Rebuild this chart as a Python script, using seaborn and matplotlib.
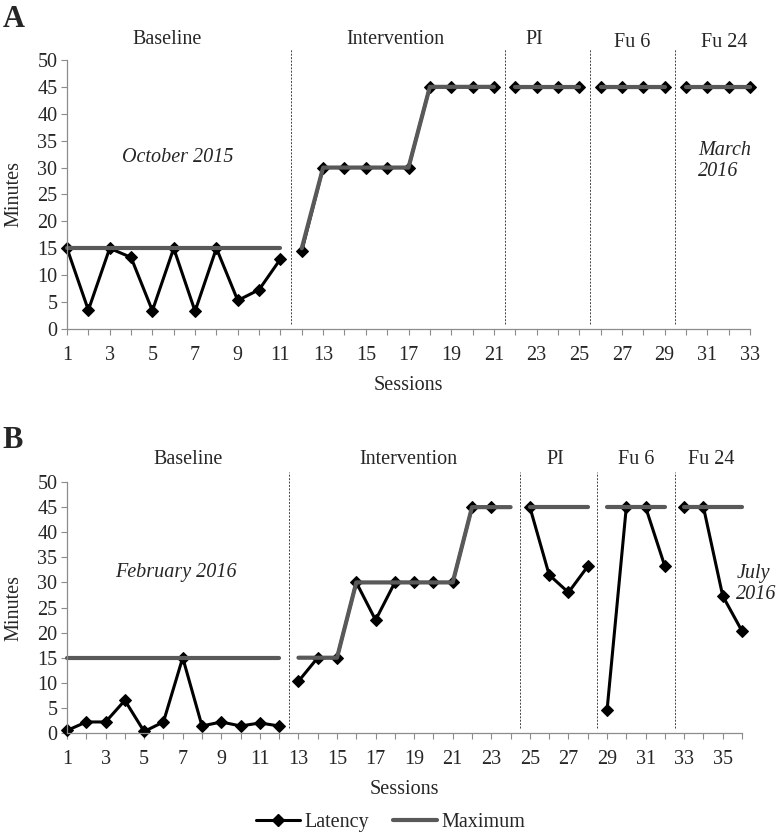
import matplotlib
matplotlib.use('Agg')
import matplotlib.pyplot as plt
import numpy as np
import pandas as pd
import seaborn as sns
from matplotlib.lines import Line2D

sns.set_style('white')
plt.rcParams['font.family'] = ['Liberation Serif', 'DejaVu Serif']

# ---- data, panel A ----
a_sessions = list(range(1, 34))
a_phase = ['Baseline'] * 11 + ['Intervention'] * 10 + ['PI'] * 4 + ['Fu 6'] * 4 + ['Fu 24'] * 4
a_latency = [15, 3.5, 15, 13.3, 3.4, 15, 3.3, 15, 5.3, 7.3, 13,
             14.5, 30, 30, 30, 30, 30, 45, 45, 45, 45,
             45, 45, 45, 45,
             45, 45, 45, 45,
             45, 45, 45, 45]
a_maximum = [15] * 11 + [15, 30, 30, 30, 30, 30, 45, 45, 45, 45] + [45] * 12
a_phase_lines = [11.5, 21.5, 25.5, 29.5]
a_labels = ['Baseline', 'Intervention', 'PI', 'Fu 6', 'Fu 24']

# ---- data, panel B ----
b_sessions = list(range(1, 37))
b_phase = ['Baseline'] * 12 + ['Intervention'] * 12 + ['PI'] * 4 + ['Fu 6'] * 4 + ['Fu 24'] * 4
b_latency = [0.5, 2.2, 2.2, 6.5, 0.3, 2.2, 15, 1.4, 2.2, 1.4, 2.0, 1.4,
             10.3, 15, 15, 30, 22.5, 30, 30, 30, 30, 45, 45, np.nan,
             45, 31.5, 28, 33.2,
             4.5, 45, 45, 33.2,
             45, 45, 27.3, 20.3]
b_maximum = [15] * 12 + [15, 15, 15, 30, 30, 30, 30, 30, 30, 45, 45, 45] + [45] * 12
b_phase_lines = [12.5, 24.5, 28.5, 32.5]
b_labels = ['Baseline', 'Intervention', 'PI', 'Fu 6', 'Fu 24']

LAT_COL = 'black'
MAX_COL = '#595959'
AX_COL = '#8c8c8c'
FS = 14.5

fig = plt.figure(figsize=(7.81, 8.36), dpi=100)
axA = fig.add_axes([0.0858, 0.6065, 0.8745, 0.3218])
axB = fig.add_axes([0.0858, 0.1232, 0.8643, 0.3002])


def panel(ax, sessions, phase, latency, maximum, plines, labels, lab_x, lab_y, xmax):
    df = pd.DataFrame({'session': sessions, 'phase': phase,
                       'latency': latency, 'maximum': maximum})
    sns.lineplot(data=df, x='session', y='latency', units='phase', estimator=None,
                 color=LAT_COL, lw=2.2, marker='D', markersize=6.5,
                 markeredgecolor=LAT_COL, ax=ax, sort=True)
    sns.lineplot(data=df, x='session', y='maximum', units='phase', estimator=None,
                 color=MAX_COL, lw=3.0, ax=ax, sort=True)
    for ln in ax.lines:
        ln.set_clip_on(False)
    ax.vlines(plines, 1, 52, colors='#444444', linestyles=(0, (2, 1.5)), lw=0.7,
              clip_on=False)
    for lx, ly, t in zip(lab_x, lab_y, labels):
        ax.text(lx, ly, t, ha='center', va='center', fontsize=FS)
    ax.set_xlim(1, xmax)
    ax.set_ylim(0, 50)
    ax.set_yticks(range(0, 51, 5))
    ax.set_xticks(range(1, xmax + 1))
    ax.set_xticklabels([str(s) if s % 2 == 1 else '' for s in range(1, xmax + 1)])
    ax.tick_params(axis='both', labelsize=FS, length=4, width=0.8, color=AX_COL,
                   direction='out', bottom=True, left=True)
    ax.tick_params(axis='x', pad=8)
    ax.tick_params(axis='y', pad=3)
    for s in ['top', 'right']:
        ax.spines[s].set_visible(False)
    for s in ['left', 'bottom']:
        ax.spines[s].set_color(AX_COL)
        ax.spines[s].set_linewidth(0.9)
    ax.set_xlabel('Sessions', fontsize=FS, labelpad=8)
    ax.set_ylabel('Minutes', fontsize=FS, labelpad=10)
    ax.grid(False)


panel(axA, a_sessions, a_phase, a_latency, a_maximum, a_phase_lines, a_labels,
      [5.7, 16.4, 22.9, 27.5, 31.8], [53.8, 53.8, 53.8, 53.3, 53.3], 33)
panel(axB, b_sessions, b_phase, b_latency, b_maximum, b_phase_lines, b_labels,
      [7.27, 18.7, 26.3, 30.5, 34.4], [54.4, 54.4, 54.4, 54.4, 54.4], 36)

axA.text(6.2, 31.8, 'October 2015', style='italic', fontsize=FS, ha='center', va='center')
axA.text(30.57, 31.2, 'March\n2016', style='italic', fontsize=FS, ha='left', va='center',
         linespacing=1.1)
axB.text(6.65, 31.9, 'February 2016', style='italic', fontsize=FS, ha='center', va='center')
axB.text(35.7, 29.7, 'July\n2016', style='italic', fontsize=FS, ha='left', va='center',
         linespacing=1.1)

fig.text(0.003, 0.994, 'A', fontsize=22, fontweight='bold', va='top', ha='left')
fig.text(0.003, 0.491, 'B', fontsize=22, fontweight='bold', va='top', ha='left')

handles = [Line2D([], [], color=LAT_COL, lw=2.2, marker='D', markersize=6.5),
           Line2D([], [], color=MAX_COL, lw=3.0)]
fig.legend(handles, ['Latency', 'Maximum'], loc='center', ncol=2, frameon=False,
           fontsize=FS, bbox_to_anchor=(0.5, 1 - 822 / 836), handlelength=2.2,
           handletextpad=0.2, columnspacing=1.2, borderaxespad=0)

fig.savefig('out.png', dpi=100)
